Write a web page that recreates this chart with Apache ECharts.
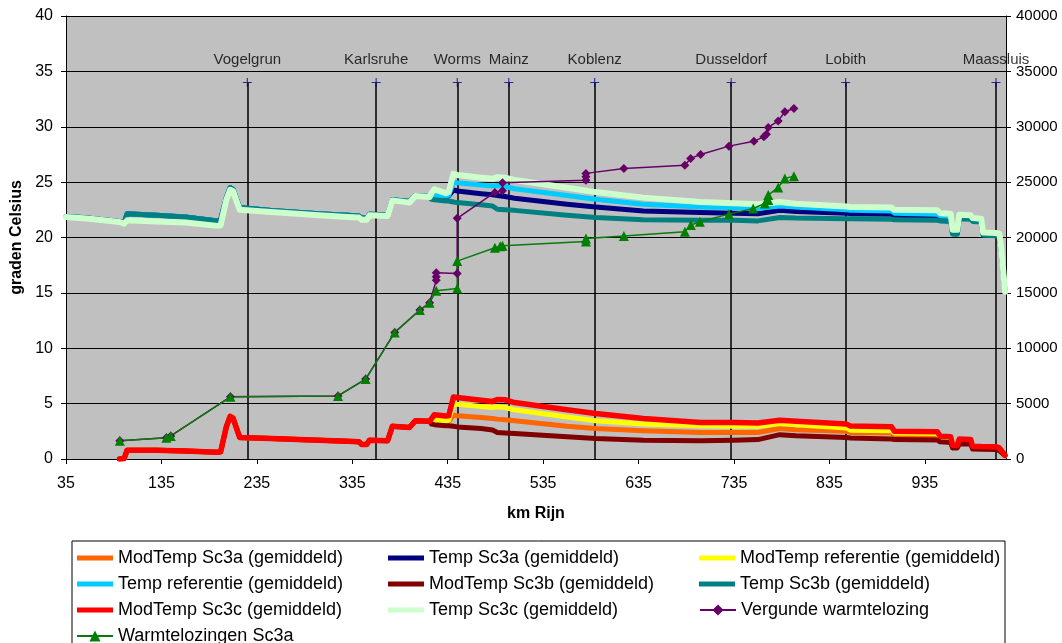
<!DOCTYPE html>
<html>
<head>
<meta charset="utf-8">
<script src="https://cdn.jsdelivr.net/npm/echarts@6/dist/echarts.min.js"></script>
<style>
  html, body { margin: 0; padding: 0; background: #fff; }
  #chart { width: 1062px; height: 643px; }
</style>
</head>
<body>
<div id="chart"></div>
<script>
// Rijn kilometre positions shared by all temperature profiles
const kmRijn = [35, 60, 91, 96, 99, 130, 160, 194, 197, 203, 207, 210, 217, 250, 300, 330, 342, 345, 350, 353, 372, 377, 395, 401, 416,
  418, 421, 433, 436, 441, 445, 470, 482, 487, 495, 505, 560, 590, 640, 700, 735, 760, 783, 800, 853, 857, 900, 903, 948, 951,
  962, 964, 969, 971, 983, 985, 994, 996, 1010, 1013, 1015, 1019];

// Temperature increase (graden Celsius)
const modTempSc3a = [null, null, 0, 0.05, 0.8, 0.78, 0.72, 0.6, 0.65, 2.9, 3.85, 3.7, 1.95, 1.85, 1.7, 1.6, 1.55, 1.3, 1.3, 1.7, 1.65, 2.95, 2.85, 3.45, 3.4,
  3.5, 3.45, 3.4, 3.4, 3.95, 3.9, 3.75, 3.65, 3.6, 3.55, 3.45, 2.95, 2.75, 2.55, 2.4, 2.4, 2.4, 2.75, 2.65, 2.5, 2.4, 2.35, 2.15, 2.1, 1.8,
  1.75, 1.15, 1.15, 1.55, 1.5, 1.0, 0.97, 0.95, 0.95, 0.85, 0.7, 0.3];
const modTempRef = [null, null, 0, 0.05, 0.8, 0.78, 0.72, 0.6, 0.65, 2.9, 3.85, 3.7, 1.95, 1.85, 1.7, 1.6, 1.55, 1.3, 1.3, 1.7, 1.65, 2.95, 2.85, 3.45, 3.4,
  3.55, 3.5, 3.45, 3.5, 5.0, 4.95, 4.75, 4.65, 4.72, 4.65, 4.45, 3.8, 3.45, 3.15, 3.0, 2.95, 2.95, 3.2, 3.1, 2.8, 2.6, 2.55, 2.35, 2.3, 1.9,
  1.85, 1.2, 1.2, 1.65, 1.6, 1.05, 1.02, 1.0, 1.0, 0.9, 0.75, 0.3];
const modTempSc3b = [null, null, 0, 0.05, 0.8, 0.78, 0.72, 0.6, 0.65, 2.9, 3.85, 3.7, 1.95, 1.85, 1.7, 1.6, 1.55, 1.3, 1.3, 1.7, 1.65, 2.95, 2.85, 3.45, 3.4,
  3.15, 3.1, 3.0, 3.0, 2.95, 2.9, 2.75, 2.62, 2.4, 2.35, 2.3, 2.0, 1.85, 1.7, 1.65, 1.7, 1.75, 2.2, 2.1, 1.95, 1.9, 1.8, 1.75, 1.72, 1.55,
  1.5, 1.0, 1.0, 1.35, 1.35, 0.9, 0.87, 0.85, 0.85, 0.75, 0.65, 0.3];
const modTempSc3c = [null, null, 0, 0.05, 0.8, 0.78, 0.72, 0.6, 0.65, 2.9, 3.85, 3.7, 1.95, 1.85, 1.7, 1.6, 1.55, 1.3, 1.3, 1.7, 1.65, 2.95, 2.85, 3.45, 3.4,
  3.5, 4.0, 3.88, 3.9, 5.6, 5.55, 5.3, 5.2, 5.38, 5.35, 5.1, 4.45, 4.1, 3.65, 3.3, 3.3, 3.25, 3.5, 3.4, 3.15, 2.97, 2.92, 2.5, 2.45, 2.05,
  2.0, 1.25, 1.25, 1.8, 1.75, 1.15, 1.12, 1.1, 1.1, 1.0, 0.85, 0.35];

// River temperature (graden Celsius)
const tempSc3a = [21.9, 21.75, 21.45, 21.35, 22.15, 22.0, 21.85, 21.5, 21.6, 23.6, 24.5, 24.35, 22.7, 22.45, 22.15, 22.0, 21.95, 21.75, 21.75, 22.1, 22.05, 23.4, 23.25, 23.8, 23.7,
  23.75, 23.75, 23.7, 23.75, 24.3, 24.2, 23.95, 23.85, 23.8, 23.7, 23.55, 23.0, 22.75, 22.4, 22.25, 22.2, 22.15, 22.45, 22.35, 22.2, 22.15, 22.1, 22.0, 21.95, 21.8,
  21.75, 20.4, 20.4, 21.8, 21.75, 21.55, 21.5, 20.3, 20.25, 20.2, 18.9, 15.1];
const tempRef = [21.9, 21.75, 21.45, 21.35, 22.15, 22.0, 21.85, 21.5, 21.6, 23.6, 24.5, 24.35, 22.7, 22.45, 22.15, 22.0, 21.95, 21.75, 21.75, 22.1, 22.05, 23.4, 23.25, 23.8, 23.7,
  23.8, 23.8, 23.75, 23.8, 25.0, 24.95, 24.75, 24.65, 24.7, 24.6, 24.4, 23.8, 23.45, 23.0, 22.75, 22.7, 22.65, 22.85, 22.75, 22.5, 22.45, 22.4, 22.2, 22.1, 21.95,
  21.9, 20.5, 20.5, 21.9, 21.85, 21.6, 21.55, 20.35, 20.3, 20.25, 19.0, 15.1];
const tempSc3b = [21.9, 21.75, 21.45, 21.35, 22.15, 22.0, 21.85, 21.5, 21.6, 23.6, 24.5, 24.35, 22.7, 22.45, 22.15, 22.0, 21.95, 21.75, 21.75, 22.1, 22.05, 23.4, 23.25, 23.8, 23.7,
  23.45, 23.4, 23.3, 23.3, 23.2, 23.15, 22.95, 22.85, 22.55, 22.5, 22.45, 22.0, 21.8, 21.6, 21.55, 21.55, 21.5, 21.8, 21.75, 21.7, 21.7, 21.65, 21.6, 21.55, 21.5,
  21.45, 20.3, 20.3, 21.7, 21.65, 21.45, 21.4, 20.2, 20.15, 20.1, 18.8, 15.1];
const tempSc3c = [21.85, 21.7, 21.4, 21.25, 21.55, 21.45, 21.35, 21.05, 21.1, 23.4, 24.3, 24.2, 22.5, 22.3, 22.0, 21.85, 21.8, 21.6, 21.6, 22.0, 21.95, 23.35, 23.15, 23.75, 23.65,
  24.0, 24.35, 24.0, 24.1, 25.75, 25.65, 25.4, 25.3, 25.45, 25.4, 25.2, 24.5, 24.1, 23.6, 23.2, 23.1, 23.0, 23.2, 23.05, 22.8, 22.75, 22.7, 22.5, 22.45, 22.2,
  22.15, 20.7, 20.7, 22.05, 22.0, 21.75, 21.7, 20.45, 20.4, 20.35, 19.1, 15.1];

// Heat discharges (right axis)
const vergundKm = [91.4, 140.2, 144.8, 207.3, 320, 349, 379.5, 405.8, 416, 423, 423, 423, 444.9, 444.9, 484.4, 492.4, 492.4,
  579.8, 579.8, 579.8, 619.6, 683.5, 689.5, 700, 729.6, 755.9, 766.3, 769, 770.9, 781.3, 788.3, 797.8];
const vergundWarmte = [1650, 1920, 2080, 5620, 5690, 7220, 11430, 13450, 14110, 16150, 16460, 16820, 16760, 21730, 24070, 24210, 24940,
  25180, 25480, 25790, 26240, 26530, 27140, 27500, 28250, 28700, 29090, 29330, 29940, 30530, 31350, 31650];
const sc3aKm = [91.4, 140.2, 144.8, 207.3, 320, 349, 379.5, 405.8, 416, 423, 444.9, 444.9, 484.4, 490, 492.4, 579.8, 579.8,
  619.6, 683.5, 689.8, 699.2, 729.6, 755, 767.4, 770.9, 770.9, 781.3, 788.3, 797.8];
const sc3aWarmte = [1650, 1920, 2080, 5620, 5690, 7220, 11430, 13450, 14110, 15190, 15400, 17870, 19070, 19200, 19250, 19650, 19900,
  20130, 20520, 21120, 21420, 22110, 22620, 23070, 23380, 23830, 24520, 25330, 25540];

// Reference places along the river
const plaatsNamen = ['Vogelgrun', 'Karlsruhe', 'Worms', 'Mainz', 'Koblenz', 'Dusseldorf', 'Lobith', 'Maassluis'];
const plaatsKm = [225, 360, 445, 499, 589, 732, 852, 1009.5];
const plaatsHoogte = 34;

// Axis ticks
const kmTicks = [35, 135, 235, 335, 435, 535, 635, 735, 835, 935];

const FONT = '"Liberation Sans", Arial, sans-serif';
const pairs = (xs, ys) => xs.map((x, i) => [x, ys[i]]).filter(p => p[1] !== null);
const thickIcon = 'path://M0,0M36,14M0,4.5H36V9.5H0Z';

function tempSeries(name, values, color, width) {
  return {
    name, type: 'line', data: pairs(kmRijn, values), showSymbol: false, symbol: 'none',
    color, lineStyle: { color, width, join: 'round', cap: 'round' }, clip: true, silent: true
  };
}

const series = [
  {
    name: 'plaatsen', type: 'scatter', yAxisIndex: 0,
    data: plaatsKm.map(k => [k, plaatsHoogte]),
    symbol: 'path://M4.4,0H5.6V4.4H10V5.6H5.6V10H4.4V5.6H0V4.4H4.4Z', symbolSize: 9,
    itemStyle: { color: '#000080' },
    label: {
      show: true, position: 'top', distance: 11, color: '#000', fontSize: 15, fontFamily: FONT,
      formatter: p => plaatsNamen[p.dataIndex]
    },
    markLine: {
      silent: true, z: 1, symbol: 'none', label: { show: false },
      lineStyle: { color: '#000', width: 1.5, type: 'solid' },
      data: plaatsKm.map(k => [{ coord: [k, 0] }, { coord: [k, plaatsHoogte] }])
    }
  },
  tempSeries('ModTemp Sc3a (gemiddeld)', modTempSc3a, '#FF6600', 5),
  tempSeries('Temp Sc3a (gemiddeld)', tempSc3a, '#000080', 5),
  tempSeries('ModTemp referentie (gemiddeld)', modTempRef, '#FFFF00', 5),
  tempSeries('Temp referentie (gemiddeld)', tempRef, '#00CCFF', 5),
  tempSeries('ModTemp Sc3b (gemiddeld)', modTempSc3b, '#800000', 5),
  tempSeries('Temp Sc3b (gemiddeld)', tempSc3b, '#008080', 5),
  tempSeries('ModTemp Sc3c (gemiddeld)', modTempSc3c, '#FF0000', 5.5),
  tempSeries('Temp Sc3c (gemiddeld)', tempSc3c, '#CCFFCC', 6),
  {
    name: 'Vergunde warmtelozing', type: 'line', yAxisIndex: 1, data: pairs(vergundKm, vergundWarmte),
    symbol: 'diamond', symbolSize: 9, color: '#660066',
    itemStyle: { color: '#660066' }, lineStyle: { color: '#660066', width: 1.5 }
  },
  {
    name: 'Warmtelozingen Sc3a', type: 'line', yAxisIndex: 1, data: pairs(sc3aKm, sc3aWarmte),
    symbol: 'triangle', symbolSize: 10, color: '#008000',
    itemStyle: { color: '#008000' }, lineStyle: { color: '#0A7A0A', width: 1.5 }
  }
];

const legendNames = series.slice(1).map(s => s.name);

const option = {
  animation: false,
  backgroundColor: '#fff',
  textStyle: { fontFamily: FONT },
  grid: { left: 66, top: 16, width: 940, height: 443, show: true, backgroundColor: '#C0C0C0', borderWidth: 0 },
  legend: {
    left: 72, top: 541, width: 930, orient: 'horizontal',
    padding: [8, 2, 12, 4], borderColor: '#000', borderWidth: 1,
    itemWidth: 36, itemHeight: 14, itemGap: 8,
    textStyle: { fontSize: 18, color: '#000', fontFamily: FONT, width: 262, lineHeight: 18 },
    data: legendNames.map((n, i) => i < 8 ? { name: n, icon: thickIcon } : { name: n })
  },
  xAxis: {
    type: 'value', min: 35, max: 1020,
    axisLine: { show: true, onZero: false, lineStyle: { color: '#000', width: 1 } },
    axisTick: { show: true, length: 5, lineStyle: { color: '#000' }, customValues: kmTicks },
    axisLabel: { customValues: kmTicks, margin: 17, fontSize: 16, color: '#000', fontFamily: FONT },
    splitLine: { show: false },
    name: 'km Rijn', nameLocation: 'middle', nameGap: 47,
    nameTextStyle: { fontWeight: 'bold', fontSize: 16, color: '#000', fontFamily: FONT }
  },
  yAxis: [
    {
      type: 'value', min: 0, max: 40, interval: 5, position: 'left',
      axisLine: { show: true, onZero: false, lineStyle: { color: '#000', width: 1 } },
      axisTick: { show: true, length: 5, lineStyle: { color: '#000' } },
      axisLabel: { margin: 13, fontSize: 16, color: '#000', fontFamily: FONT },
      splitLine: { show: true, lineStyle: { color: '#000', width: 1 } },
      name: 'graden Celsius', nameLocation: 'middle', nameGap: 41, nameRotate: 90,
      nameTextStyle: { fontWeight: 'bold', fontSize: 16, color: '#000', fontFamily: FONT }
    },
    {
      type: 'value', min: 0, max: 40000, interval: 5000, position: 'right',
      axisLine: { show: true, onZero: false, lineStyle: { color: '#000', width: 1 } },
      axisTick: { show: true, length: 5, lineStyle: { color: '#000' } },
      axisLabel: { margin: 10, fontSize: 15, color: '#000', fontFamily: FONT, formatter: v => String(v) },
      splitLine: { show: false }
    }
  ],
  series
};

const chart = echarts.init(document.getElementById('chart'), null, { renderer: 'canvas' });
chart.setOption(option);
</script>
</body>
</html>
